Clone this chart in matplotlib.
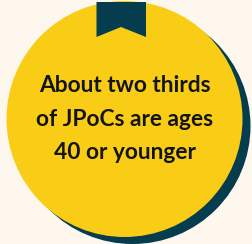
import matplotlib
matplotlib.use("Agg")
import matplotlib.pyplot as plt
from matplotlib.patches import Circle, Polygon

lines = ["About two thirds", "of JPoCs are ages", "40 or younger"]

BG = "#FDF7EE"
YELLOW = "#F9CD16"
DARK = "#053C4E"

W, H = 253, 244
fig = plt.figure(figsize=(W / 100, H / 100), dpi=100)
fig.patch.set_facecolor(BG)
ax = fig.add_axes([0, 0, 1, 1])
ax.set_xlim(0, W)
ax.set_ylim(H, 0)
ax.set_aspect("auto")
ax.axis("off")

cx, cy, r = 124.5, 119, 118
ax.add_patch(Circle((cx + 8, cy + 7), r, facecolor=DARK, edgecolor="none"))
ax.add_patch(Circle((cx, cy), r, facecolor=YELLOW, edgecolor="none"))

ribbon = [(96.5, 2), (146, 2), (146, 37), (121, 27), (96.5, 37)]
ax.add_patch(Polygon(ribbon, closed=True, facecolor=DARK, edgecolor="none"))

baselines = [92.5, 125.5, 159.3]
for t, y in zip(lines, baselines):
    ax.text(125, y, t, ha="center", va="baseline", fontsize=16.4,
            fontweight="bold", family=["Lato", "DejaVu Sans"], color="#141414")

fig.savefig("out.png", dpi=100, facecolor=BG)
